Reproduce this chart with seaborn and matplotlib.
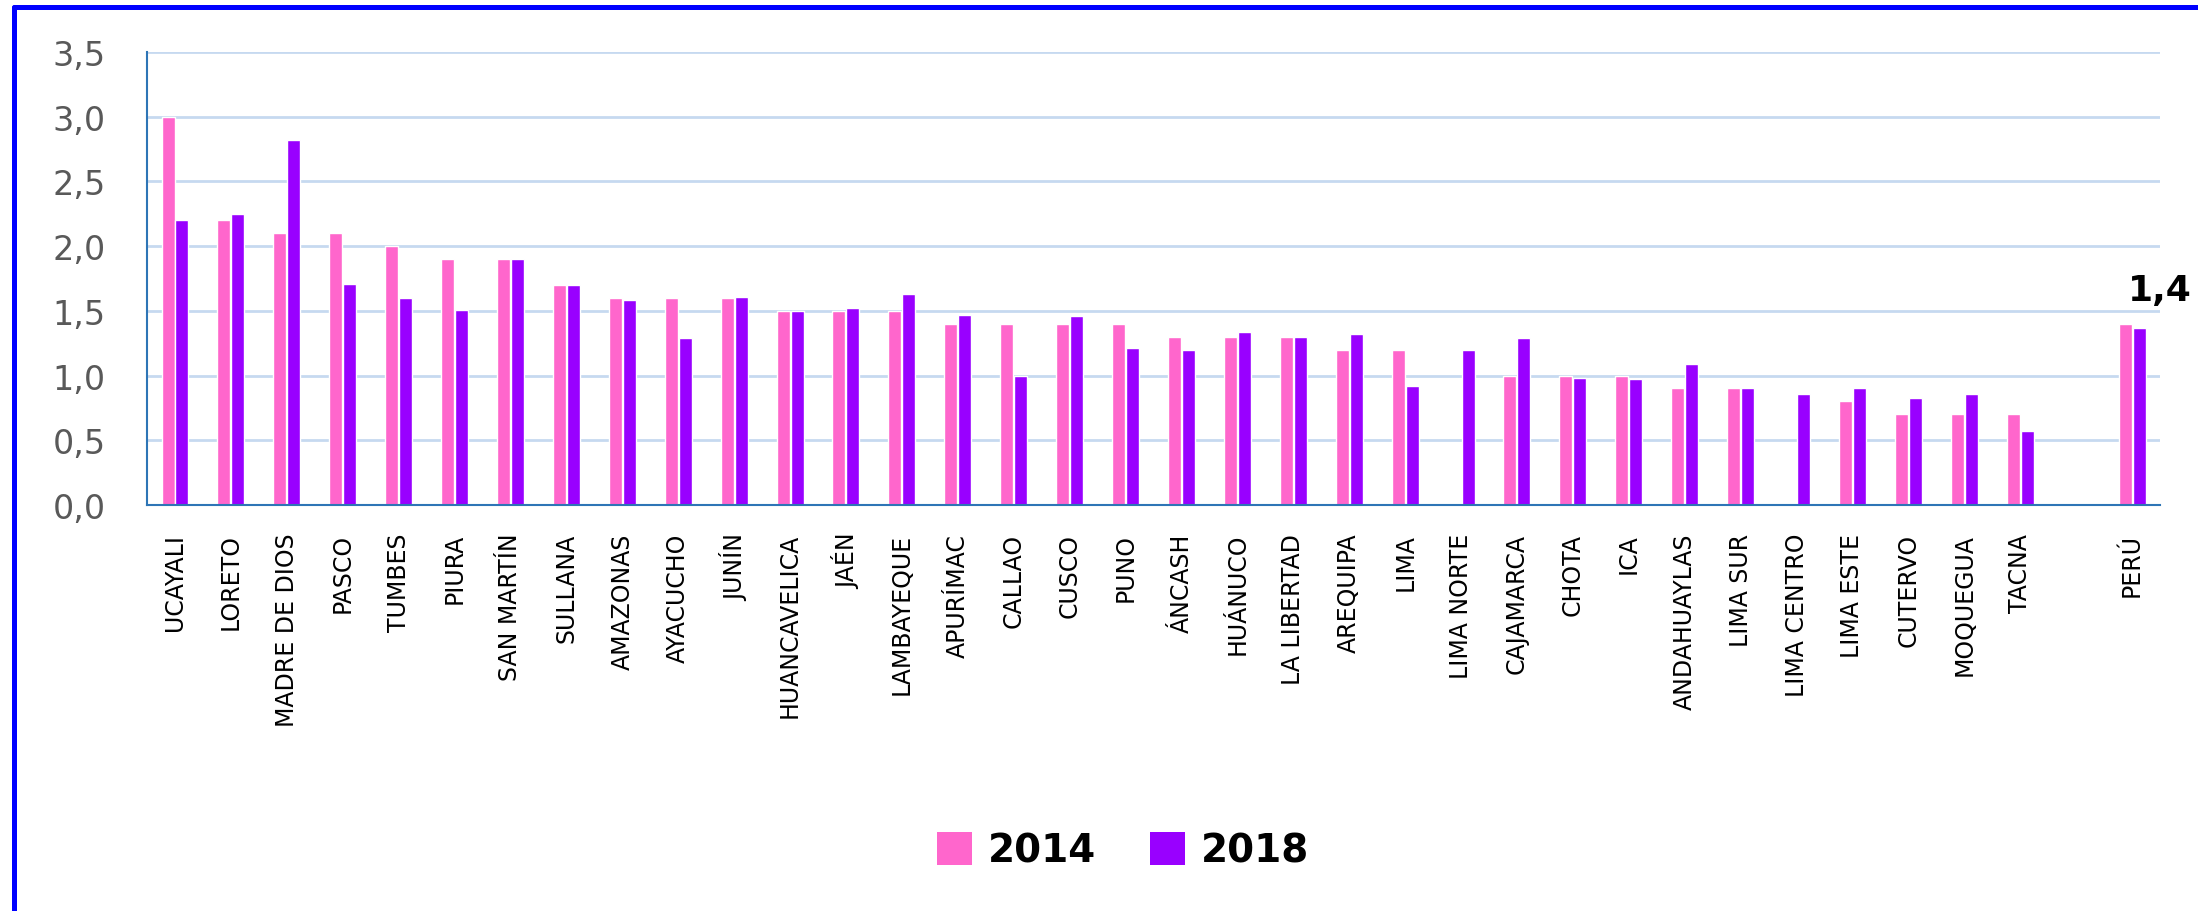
import numpy as np
import pandas as pd
import matplotlib
matplotlib.use("Agg")
import matplotlib.pyplot as plt
from matplotlib.lines import Line2D
from matplotlib.patches import Patch
import seaborn as sns

# data
regions = [
    "UCAYALI", "LORETO", "MADRE DE DIOS", "PASCO", "TUMBES", "PIURA",
    "SAN MARTÍN", "SULLANA", "AMAZONAS", "AYACUCHO", "JUNÍN", "HUANCAVELICA",
    "JAÉN", "LAMBAYEQUE", "APURÍMAC", "CALLAO", "CUSCO", "PUNO", "ÁNCASH",
    "HUÁNUCO", "LA LIBERTAD", "AREQUIPA", "LIMA", "LIMA NORTE", "CAJAMARCA",
    "CHOTA", "ICA", "ANDAHUAYLAS", "LIMA SUR", "LIMA CENTRO", "LIMA ESTE",
    "CUTERVO", "MOQUEGUA", "TACNA", "PERÚ",
]
vals_2014 = [
    3.0, 2.2, 2.1, 2.1, 2.0, 1.9, 1.9, 1.7, 1.6, 1.6, 1.6, 1.5,
    1.5, 1.5, 1.4, 1.4, 1.4, 1.4, 1.3, 1.3, 1.3, 1.2, 1.2, np.nan, 1.0,
    1.0, 1.0, 0.9, 0.9, np.nan, 0.8, 0.7, 0.7, 0.7, 1.4,
]
vals_2018 = [
    2.2, 2.25, 2.82, 1.71, 1.6, 1.51, 1.9, 1.7, 1.58, 1.29, 1.61, 1.5,
    1.52, 1.63, 1.47, 1.0, 1.46, 1.21, 1.2, 1.34, 1.3, 1.32, 0.92, 1.2, 1.29,
    0.98, 0.97, 1.09, 0.9, 0.86, 0.9, 0.83, 0.86, 0.57, 1.37,
]
years = ["2014", "2018"]
colors = {"2014": "#FF66CC", "2018": "#9900FF"}

# empty slot before the national total
order = regions[:-1] + [" "] + regions[-1:]

df = pd.DataFrame({
    "region": regions * 2,
    "year": ["2014"] * len(regions) + ["2018"] * len(regions),
    "value": vals_2014 + vals_2018,
})

sns.set_style("white")
plt.rcParams["font.family"] = ["DejaVu Sans"]

fig = plt.figure(figsize=(21.98, 9.12), dpi=100)
ax = fig.add_axes([0.0669, 0.4452, 0.9827 - 0.0669, 0.9419 - 0.4452])

sns.barplot(data=df, x="region", y="value", hue="year", order=order,
            hue_order=years, palette=colors, width=0.5, gap=0.07,
            saturation=1, errorbar=None, legend=False, ax=ax)

ax.set_ylim(0, 3.5)
ax.set_xlim(-0.5, len(order) - 0.5)
ticks = np.arange(0, 3.51, 0.5)
ax.set_yticks(ticks)
ax.set_yticklabels([f"{t:.1f}".replace(".", ",") for t in ticks],
                   fontsize=24, color="#595959")
ax.tick_params(axis="y", length=0, pad=30)
ax.tick_params(axis="x", length=0, pad=20)
plt.setp(ax.get_xticklabels(), rotation=90, fontsize=17, color="black")
ax.set_xlabel("")
ax.set_ylabel("")

ax.yaxis.grid(True, color="#C6D9F0", linewidth=2)
ax.set_axisbelow(True)
for side in ["top", "right"]:
    ax.spines[side].set_visible(False)
for side in ["left", "bottom"]:
    ax.spines[side].set_color("#2E75B6")
    ax.spines[side].set_linewidth(1.5)

# national value label
peru_idx = order.index("PERÚ")
peru_val = vals_2014[-1]
ax.text(peru_idx + 0.5, peru_val + 0.26, f"{peru_val:.1f}".replace(".", ","),
        ha="center", va="center", fontsize=26, fontweight="bold",
        color="black", clip_on=False)

handles = [Patch(facecolor=colors[y], edgecolor="none", label=y) for y in years]
fig.legend(handles=handles, loc="center", bbox_to_anchor=(0.511, 0.066),
           ncol=2, frameon=False, handlelength=0.9, handleheight=0.9,
           handletextpad=0.4, columnspacing=1.4, labelcolor="black",
           prop={"size": 28, "weight": "bold"})

# blue frame (only top and left edges visible in the crop)
fig.add_artist(Line2D([14 / 2198, 1.0], [1 - 8 / 912, 1 - 8 / 912],
                      transform=fig.transFigure, color="#0000FF", linewidth=3.6))
fig.add_artist(Line2D([14 / 2198, 14 / 2198], [0.0, 1 - 8 / 912],
                      transform=fig.transFigure, color="#0000FF", linewidth=3.6))

fig.savefig("out.png", dpi=100)
